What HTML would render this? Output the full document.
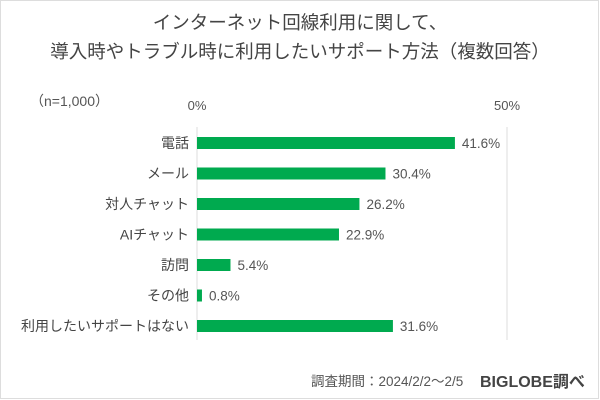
<!DOCTYPE html>
<html><head><meta charset="utf-8"><style>
body{margin:0;background:#fff}
#c{position:relative;width:600px;height:400px;overflow:hidden;font-family:"Liberation Sans","Noto Sans CJK JP",sans-serif;color:#444}
</style></head><body>
<div id="c">
<svg width="600" height="400">
<rect x="0.5" y="0.5" width="598" height="398" fill="#fff" stroke="#ddd"/>
<text x="300" y="29" text-anchor="middle" font-size="18.5" fill="#444" font-family="Liberation Sans, Noto Sans CJK JP, sans-serif">インターネット回線利用に関して、</text>
<text x="300" y="58" text-anchor="middle" font-size="18.5" fill="#444" font-family="Liberation Sans, Noto Sans CJK JP, sans-serif">導入時やトラブル時に利用したいサポート方法（複数回答）</text>
<text x="30" y="106" font-size="14" fill="#555" font-family="Liberation Sans, Noto Sans CJK JP, sans-serif">（n=1,000）</text>
<g id="plot"></g>
<text x="311" y="386" font-size="13.5" fill="#555" font-family="Liberation Sans, Noto Sans CJK JP, sans-serif">調査期間：2024/2/2～2/5</text>
<text x="480" y="387" font-size="16" font-weight="bold" fill="#444" font-family="Liberation Sans, Noto Sans CJK JP, sans-serif">BIGLOBE調べ</text>
</svg>
</div>
<script>
const categories=["電話","メール","対人チャット","AIチャット","訪問","その他","利用したいサポートはない"];
const values=[41.6,30.4,26.2,22.9,5.4,0.8,31.6];
const ticks=[0,50];
const ns="http://www.w3.org/2000/svg";
const g=document.getElementById('plot');
const x0=197,pxPer=6.2,top0=143,step=30.5,bh=12;
const xs=v=>x0+v*pxPer;
const ys=i=>top0+i*step;
const F="Liberation Sans, Noto Sans CJK JP, sans-serif";
function mk(t,a){const e=document.createElementNS(ns,t);for(const k in a)e.setAttribute(k,a[k]);g.appendChild(e);return e;}
ticks.forEach(t=>{
 const l=mk('line',{x1:xs(t),x2:xs(t),y1:127,y2:340,stroke:'#ddd','stroke-width':1});
 
 
 const tx=mk('text',{x:xs(t),y:110,'text-anchor':'middle','font-size':13,fill:'#555','font-family':F});
 tx.textContent=t+'%';
 
 
});
categories.forEach((c,i)=>{
 const y=ys(i);
 const r=mk('rect',{x:x0,y:y-bh/2,width:values[i]*pxPer,height:bh,fill:'#00aa4f'});
 
 
 const lb=mk('text',{x:189,y:y+5,'text-anchor':'end','font-size':14,fill:'#444','font-family':F});
 lb.textContent=c;
 
 
 const vl=mk('text',{x:xs(values[i])+7,y:y+5,'font-size':13.5,fill:'#555','font-family':F});
 vl.textContent=values[i].toFixed(1)+'%';
 
 
});
</script>
</body></html>
